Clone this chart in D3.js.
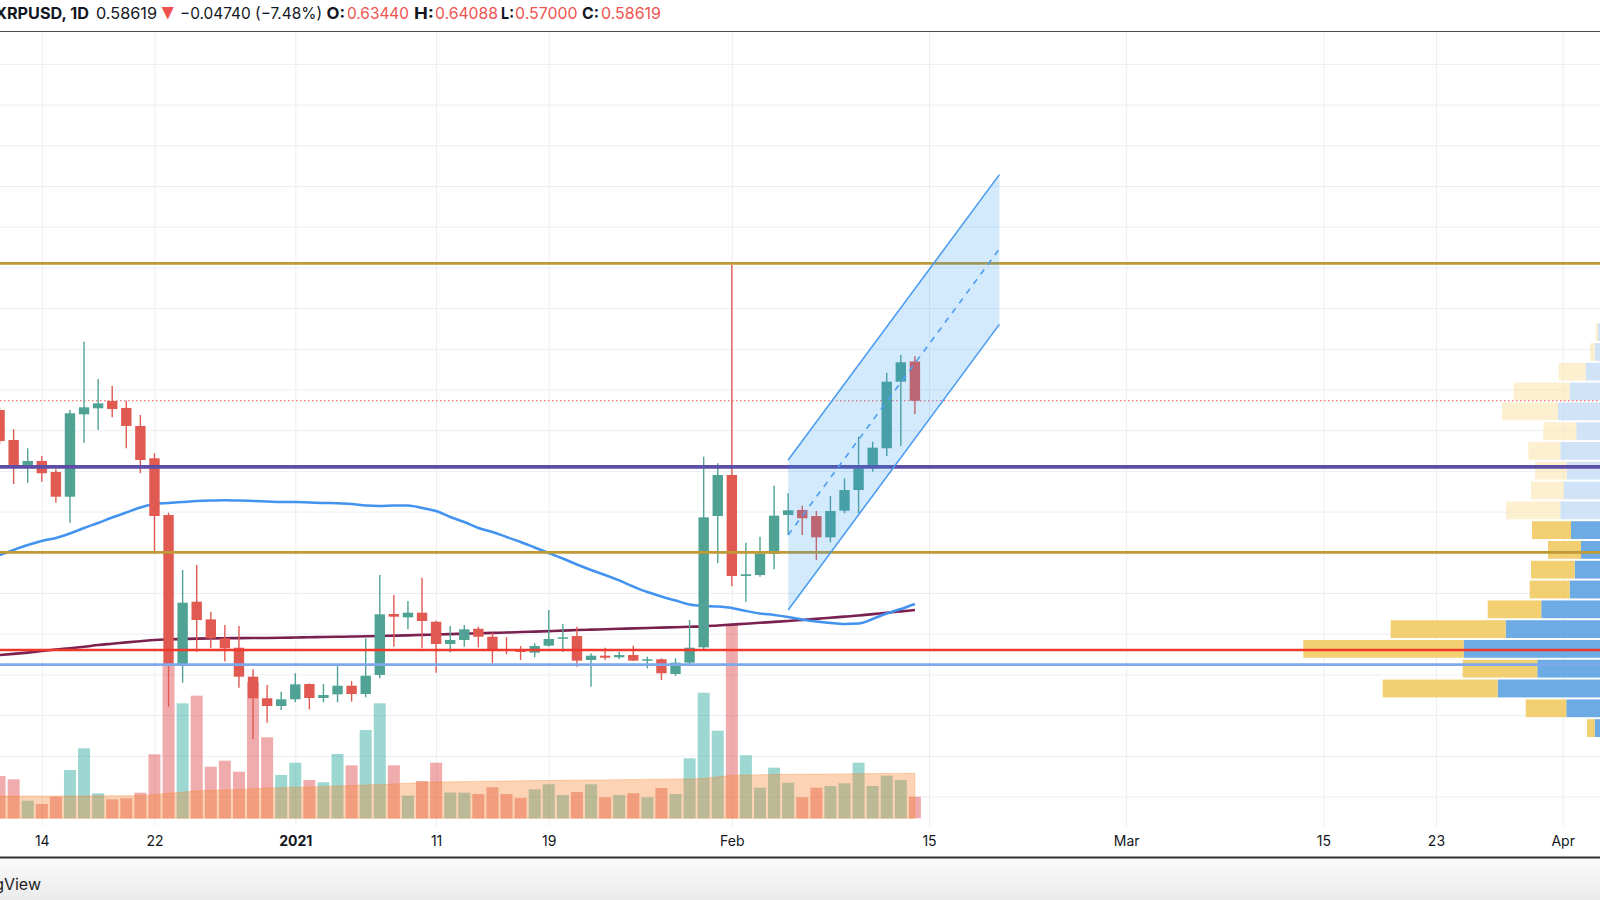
<!DOCTYPE html>
<html><head><meta charset="utf-8">
<script src="https://cdn.jsdelivr.net/npm/d3@7"></script>
<style>body{margin:0;background:#fff;overflow:hidden}svg{display:block}</style>
</head><body><svg id="c" width="1600" height="900"></svg>
<script>
const dates = ["2020-12-11","2020-12-12","2020-12-13","2020-12-14","2020-12-15","2020-12-16","2020-12-17","2020-12-18","2020-12-19","2020-12-20","2020-12-21","2020-12-22","2020-12-23","2020-12-24","2020-12-25","2020-12-26","2020-12-27","2020-12-28","2020-12-29","2020-12-30","2020-12-31",
"2021-01-01","2021-01-02","2021-01-03","2021-01-04","2021-01-05","2021-01-06","2021-01-07","2021-01-08","2021-01-09","2021-01-10","2021-01-11","2021-01-12","2021-01-13","2021-01-14","2021-01-15","2021-01-16","2021-01-17","2021-01-18","2021-01-19","2021-01-20","2021-01-21","2021-01-22","2021-01-23","2021-01-24","2021-01-25","2021-01-26","2021-01-27","2021-01-28","2021-01-29","2021-01-30","2021-01-31",
"2021-02-01","2021-02-02","2021-02-03","2021-02-04","2021-02-05","2021-02-06","2021-02-07","2021-02-08","2021-02-09","2021-02-10","2021-02-11","2021-02-12","2021-02-13","2021-02-14"];
const open  = [0.5748,0.5380,0.5073,0.5122,0.4987,0.4683,0.5695,0.5769,0.5859,0.5773,0.5552,0.5155,0.4458,0.2616,0.3393,0.3176,0.2943,0.2828,0.2472,0.2207,0.2112,
0.2194,0.2382,0.2210,0.2255,0.2361,0.2259,0.2493,0.3242,0.3201,0.3258,0.3147,0.2873,0.2923,0.3061,0.2963,0.2806,0.2809,0.2767,0.2853,0.2939,0.2972,0.2677,0.2730,0.2710,0.2738,0.2669,0.2686,0.2505,0.2644,0.2832,0.4446,
0.4950,0.3709,0.3721,0.3979,0.4458,0.4520,0.4446,0.4184,0.4511,0.4765,0.5073,0.5278,0.6096,0.6344];
const high  = [0.5780,0.5511,0.5278,0.5183,0.5020,0.5748,0.6587,0.6129,0.6043,0.5862,0.5687,0.5216,0.4487,0.3783,0.3844,0.3270,0.3107,0.3095,0.2563,0.2370,0.2288,
0.2513,0.2390,0.2382,0.2604,0.2419,0.2943,0.3721,0.3475,0.3402,0.3688,0.3160,0.3095,0.3107,0.3086,0.3012,0.2956,0.2849,0.2882,0.3291,0.3119,0.3086,0.2759,0.2828,0.2779,0.2853,0.2718,0.2698,0.2698,0.3168,0.5175,0.5093,
0.7530,0.4118,0.4192,0.4818,0.4725,0.4572,0.4507,0.4692,0.4909,0.5420,0.5359,0.6206,0.6424,0.64088];
const low   = [0.5320,0.4839,0.4855,0.4867,0.4609,0.4364,0.5347,0.5502,0.5658,0.5278,0.4971,0.4007,0.2103,0.2398,0.2779,0.2820,0.2660,0.2337,0.1703,0.1907,0.2063,
0.2157,0.2070,0.2157,0.2157,0.2165,0.2219,0.2452,0.2840,0.3054,0.2820,0.2521,0.2771,0.2840,0.2832,0.2636,0.2747,0.2677,0.2710,0.2840,0.2779,0.2594,0.2348,0.2677,0.2686,0.2665,0.2575,0.2431,0.2481,0.2616,0.2791,0.3865,
0.3586,0.3393,0.3700,0.3791,0.4213,0.4213,0.3905,0.4122,0.4479,0.4479,0.4990,0.5183,0.5306,0.5700];
const close = [0.5367,0.5073,0.5122,0.4971,0.4683,0.5708,0.5781,0.5830,0.5760,0.5552,0.5134,0.4446,0.2616,0.3381,0.3168,0.2943,0.2820,0.2472,0.2207,0.2112,0.2194,
0.2378,0.2210,0.2247,0.2361,0.2259,0.2484,0.3238,0.3209,0.3258,0.3156,0.2873,0.2923,0.3054,0.2963,0.2800,0.2788,0.2776,0.2849,0.2935,0.2956,0.2669,0.2730,0.2705,0.2738,0.2669,0.2686,0.2514,0.2644,0.2828,0.4430,0.4950,
0.3709,0.3730,0.3987,0.4450,0.4516,0.4418,0.4184,0.4507,0.4765,0.5032,0.5285,0.6096,0.6334,0.58619];
const volume = [423,390,176,143,216,483,700,250,190,200,256,640,1533,1150,1226,516,576,466,1363,810,433,
556,383,360,643,530,883,1150,530,226,373,556,258,256,243,310,243,203,290,340,233,263,340,210,233,250,210,303,243,600,1256,876,
1943,630,306,506,356,210,306,323,350,556,323,426,383,216];
const volumeMA = [222,222,223,223,223,224,224,225,225,226,228,235,250,262,272,280,284,288,296,302,306,
310,314,318,323,328,333,338,343,350,357,363,365,367,369,371,373,375,377,378,380,381,383,384,386,387,389,390,392,394,400,415,
428,433,436,438,440,441,442,443,444,446,447,448,449,450];
const maBlue = [0.3967,0.4028,0.4090,0.4139,0.4176,0.4231,0.4299,0.4360,0.4427,0.4489,0.4550,0.4593,0.4606,0.4618,0.4630,0.4636,0.4639,0.4636,0.4630,0.4624,0.4618,
0.4618,0.4612,0.4606,0.4602,0.4593,0.4575,0.4569,0.4575,0.4575,0.4544,0.4507,0.4434,0.4372,0.4299,0.4250,0.4188,0.4127,0.4059,0.3991,0.3924,0.3850,0.3783,0.3721,0.3654,0.3580,0.3512,0.3457,0.3408,0.3359,0.3341,0.3334,
0.3316,0.3279,0.3248,0.3230,0.3205,0.3175,0.3150,0.3132,0.3120,0.3125,0.3181,0.3248,0.3303,0.3365];
const maMaroon = [0.2738,0.2752,0.2768,0.2787,0.2805,0.2822,0.2840,0.2861,0.2877,0.2893,0.2908,0.2923,0.2930,0.2935,0.2940,0.2943,0.2945,0.2946,0.2947,0.2948,0.2950,
0.2953,0.2956,0.2959,0.2962,0.2965,0.2968,0.2972,0.2976,0.2980,0.2985,0.2990,0.2995,0.3000,0.3005,0.3010,0.3015,0.3020,0.3026,0.3032,0.3038,0.3045,0.3050,0.3055,0.3060,0.3065,0.3070,0.3075,0.3080,0.3085,0.3090,0.3101,
0.3112,0.3123,0.3134,0.3145,0.3156,0.3169,0.3182,0.3196,0.3210,0.3223,0.3240,0.3257,0.3274,0.3291];

const levelPrices = [0.755, 0.505, 0.400, 0.280, 0.262];
const levelColors = ["#c09a36", "#5d4fa6", "#c09a36", "#f0382c", "#7ea8ec"];
const levelWidths = [2.8, 3.8, 2.8, 2.6, 2.6];
const lastPrice = 0.58619;

const channelDates = ["2021-02-05", "2021-02-20"];
const channelUpper = [0.5134, 0.8640];
const channelMid   = [0.4213, 0.7727];
const channelLower = [0.3291, 0.6800];

const profileEdges = [0.1719,0.1962,0.2205,0.2449,0.2692,0.2935,0.3178,0.3421,0.3665,0.3908,0.4151,0.4394,0.4638,0.4881,0.5124,0.5367,0.5610,0.5854,0.6097,0.6340,0.6583,0.6826];
const profileUp   = [5.3,33.7,102.3,62.7,136.3,94.3,58.7,30.3,25.3,19,29,39.7,36,33.3,39.7,23.7,42,30.3,14.3,5,2];
const profileDown = [7.7,40.6,115,74.6,160.4,115,53.6,40,43.7,33,39,54.3,33,31.7,32,33,56,56,27,5,2.3];
const valueAreaHigh = 0.4394;

const tickDates  = ["2020-12-14","2020-12-22","2021-01-01","2021-01-11","2021-01-19","2021-02-01","2021-02-15","2021-03-01","2021-03-15","2021-03-23","2021-04-01"];
const tickLabels = ["14","22","2021","11","19","Feb","15","Mar","15","23","Apr"];
const priceTicks = [0.10,0.15,0.20,0.25,0.30,0.35,0.40,0.45,0.50,0.55,0.60,0.65,0.70,0.75,0.80,0.85,0.90,0.95,1.00];

const parse = d3.utcParse("%Y-%m-%d");
const W = 1600, plotTop = 32, plotBottom = 826;
const svg = d3.select("#c");
const FONT = "Inter, 'Noto Sans', sans-serif";

const x = d3.scaleUtc().domain([parse("2020-12-14"), parse("2021-04-01")]).range([41.8, 1562.7]);
const y = d3.scaleLinear().domain([0.85, 0.20]).range([186, 715.1]);
const yv = d3.scaleLinear().domain([0, 2000]).range([818.3, 618.3]);
const wp = d3.scaleLinear().domain([0, 100]).range([0, 100]);

const defs = svg.append("defs");
defs.append("clipPath").attr("id","plot").append("rect").attr("x",0).attr("y",plotTop).attr("width",W).attr("height",plotBottom-plotTop);
const g = defs.append("linearGradient").attr("id","foot").attr("x1",0).attr("y1",0).attr("x2",0).attr("y2",1);
g.append("stop").attr("offset","0%").attr("stop-color","#fbfbfb");
g.append("stop").attr("offset","100%").attr("stop-color","#ebebeb");

const data = dates.map((d,i)=>({t:parse(d),o:open[i],h:high[i],l:low[i],c:close[i],v:volume[i],vm:volumeMA[i],mb:maBlue[i],mm:maMaroon[i]}));

const plot = svg.append("g").attr("clip-path","url(#plot)");

// grid
plot.append("g").attr("transform",`translate(0,${plotBottom})`)
  .call(d3.axisBottom(x).tickValues(tickDates.map(parse)).tickSize(-(plotBottom-plotTop)).tickFormat(""))
  .call(a=>{a.select(".domain").remove(); a.selectAll("line").attr("stroke","#eceef1");});
plot.append("g")
  .call(d3.axisRight(y).tickValues(priceTicks).tickSize(W).tickFormat(""))
  .call(a=>{a.select(".domain").remove(); a.selectAll("line").attr("stroke","#eceef1");});

// volume bars
plot.append("g").selectAll("rect").data(data).join("rect")
  .attr("x",d=>x(d.t)-6).attr("width",12)
  .attr("y",d=>yv(d.v)).attr("height",d=>yv(0)-yv(d.v))
  .attr("fill",d=>d.c>=d.o?"rgba(38,166,154,0.45)":"rgba(222,72,72,0.45)");

// volume MA area
plot.append("path").datum(data)
  .attr("d",d3.area().x(d=>x(d.t)).y0(yv(0)).y1(d=>yv(d.vm)).curve(d3.curveMonotoneX))
  .attr("fill","rgba(245,130,40,0.35)").attr("stroke","rgba(245,130,40,0.3)").attr("stroke-width",1);

// volume profile
const prof = plot.append("g");
profileUp.forEach((u,i)=>{
  const lo = profileEdges[i], hi = profileEdges[i+1];
  const inVA = hi <= valueAreaHigh + 1e-6;
  const y0 = y(hi)+1, h = y(lo)-y(hi)-2;
  prof.append("rect").attr("x",W-wp(u)).attr("y",y0).attr("width",wp(u)).attr("height",h)
    .attr("fill", inVA ? "rgba(96,164,226,0.92)" : "rgba(190,216,243,0.7)");
  prof.append("rect").attr("x",W-wp(u)-wp(profileDown[i])).attr("y",y0).attr("width",wp(profileDown[i])).attr("height",h)
    .attr("fill", inVA ? "rgba(241,202,96,0.9)" : "rgba(250,228,170,0.55)");
});

// last price dotted line
plot.append("line").attr("x1",0).attr("x2",W).attr("y1",y(lastPrice)).attr("y2",y(lastPrice))
  .attr("stroke","#ef5350").attr("stroke-width",1).attr("stroke-dasharray","1.5,2.5");

// moving averages
plot.append("path").datum(data).attr("d",d3.line().x(d=>x(d.t)).y(d=>y(d.mm)).curve(d3.curveMonotoneX))
  .attr("fill","none").attr("stroke","#7a2150").attr("stroke-width",2.6);
plot.append("path").datum(data).attr("d",d3.line().x(d=>x(d.t)).y(d=>y(d.mb)).curve(d3.curveMonotoneX))
  .attr("fill","none").attr("stroke","#4293ef").attr("stroke-width",2.5);

// candles
const cg = plot.append("g");
cg.selectAll("line").data(data).join("line")
  .attr("x1",d=>x(d.t)).attr("x2",d=>x(d.t)).attr("y1",d=>y(d.h)).attr("y2",d=>y(d.l))
  .attr("stroke",d=>d.c>=d.o?"#50a394":"#e15a52").attr("stroke-width",1.4);
cg.selectAll("rect").data(data).join("rect")
  .attr("x",d=>x(d.t)-5.2).attr("width",10.4)
  .attr("y",d=>y(Math.max(d.o,d.c))).attr("height",d=>Math.max(1.5,Math.abs(y(d.o)-y(d.c))))
  .attr("fill",d=>d.c>=d.o?"#50a394":"#e15a52");

// horizontal levels
levelPrices.forEach((p,i)=>{
  plot.append("line").attr("x1",0).attr("x2",W).attr("y1",y(p)).attr("y2",y(p))
    .attr("stroke",levelColors[i]).attr("stroke-width",levelWidths[i]);
});

// channel
const cx0 = x(parse(channelDates[0])), cx1 = x(parse(channelDates[1]));
plot.append("path")
  .attr("d",`M${cx0},${y(channelUpper[0])}L${cx1},${y(channelUpper[1])}L${cx1},${y(channelLower[1])}L${cx0},${y(channelLower[0])}Z`)
  .attr("fill","rgba(33,150,243,0.2)");
[[channelUpper,null],[channelLower,null],[channelMid,"6,6"]].forEach(([arr,dash])=>{
  plot.append("line").attr("x1",cx0).attr("x2",cx1).attr("y1",y(arr[0])).attr("y2",y(arr[1]))
    .attr("stroke","#4d9df0").attr("stroke-width",1.6).attr("stroke-dasharray",dash);
});

// time axis labels
svg.append("g").attr("transform",`translate(0,${plotBottom})`)
  .call(d3.axisBottom(x).tickValues(tickDates.map(parse)).tickSize(0).tickPadding(10).tickFormat((d,i)=>tickLabels[i]))
  .call(a=>{a.select(".domain").remove();
    a.selectAll("text").attr("fill","#131722").style("font-family",FONT).style("font-size","14px")
     .style("font-weight",(d,i)=>tickLabels[i]==="2021"?"700":"400");});

// frame lines
svg.append("line").attr("x1",0).attr("x2",W).attr("y1",31.5).attr("y2",31.5).attr("stroke","#4a4a4a").attr("stroke-width",1);
svg.append("rect").attr("x",0).attr("y",858).attr("width",W).attr("height",42).attr("fill","url(#foot)");
svg.append("line").attr("x1",0).attr("x2",W).attr("y1",857.5).attr("y2",857.5).attr("stroke","#333").attr("stroke-width",2);
svg.append("text").attr("x",41).attr("y",890).attr("text-anchor","end").attr("fill","#222")
  .style("font-family",FONT).style("font-size","16px").text("TradingView");

// header
const head = [
  {t:"XRPUSD, 1D", x0:-5, x1:89, c:"#131722", b:true},
  {t:"0.58619", x0:96, x1:157, c:"#131722"},
  {t:"▼", x0:161, x1:174.5, c:"#ef5350"},
  {t:"\u22120.04740 (\u22127.48%)", x0:180, x1:322, c:"#131722"},
  {t:"O:", x0:326.5, x1:345, c:"#131722", b:true},
  {t:"0.63440", x0:347, x1:409, c:"#ef5350"},
  {t:"H:", x0:414, x1:434, c:"#131722", b:true},
  {t:"0.64088", x0:435, x1:498, c:"#ef5350"},
  {t:"L:", x0:501, x1:514, c:"#131722", b:true},
  {t:"0.57000", x0:515, x1:577.5, c:"#ef5350"},
  {t:"C:", x0:582, x1:599, c:"#131722", b:true},
  {t:"0.58619", x0:601, x1:661, c:"#ef5350"}
];
head.forEach(h=>{
  svg.append("text").attr("x",h.x0).attr("y",18.5).attr("fill",h.c)
    .attr("textLength",h.x1-h.x0).attr("lengthAdjust","spacingAndGlyphs")
    .style("font-family",FONT).style("font-size","16px").style("font-weight",h.b?"700":"400").text(h.t);
});
</script></body></html>
